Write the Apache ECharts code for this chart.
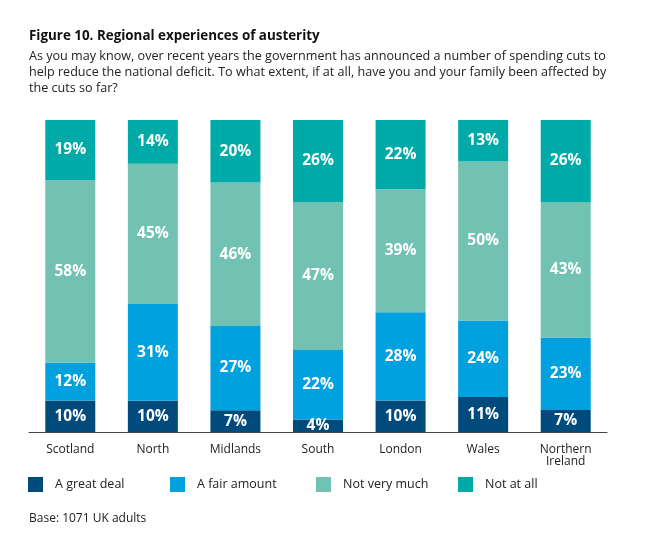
<!DOCTYPE html>
<html>
<head>
<meta charset="utf-8">
<script src="https://cdn.jsdelivr.net/npm/echarts@6/dist/echarts.min.js"></script>
<style>
  html, body { margin: 0; padding: 0; background: #fff; }
  #chart { width: 646px; height: 538px; }
</style>
</head>
<body>
<div id="chart"></div>
<script>
// regions along the x axis
var regions = ['Scotland', 'North', 'Midlands', 'South', 'London', 'Wales', 'Northern\nIreland'];

// percentages (bottom to top)
var greatDeal = [10, 10, 7, 4, 10, 11, 7];
var fairAmount = [12, 31, 27, 22, 28, 24, 23];
var notVeryMuch = [58, 45, 46, 47, 39, 50, 43];
var notAtAll = [19, 14, 20, 26, 22, 13, 26];

var seriesNames = ['A great deal', 'A fair amount', 'Not very much', 'Not at all'];
var colors = ['#004a7c', '#00a1de', '#71c2b3', '#00aaa8'];

var font = '"Open Sans", "Noto Sans", sans-serif';
var raw = [greatDeal, fairAmount, notVeryMuch, notAtAll];

// each bar is drawn to full height, as in the original (rounded figures don't always add to 100)
var totals = regions.map(function (r, i) {
  return raw.reduce(function (s, arr) { return s + arr[i]; }, 0);
});

var chart = echarts.init(document.getElementById('chart'));

var series = raw.map(function (arr, k) {
  return {
    name: seriesNames[k],
    type: 'bar',
    stack: 'all',
    barWidth: 50,
    itemStyle: { color: colors[k] },
    label: {
      show: true,
      position: 'inside',
      color: '#fff',
      fontFamily: font,
      fontWeight: 'bold',
      fontSize: 15.5,
      formatter: function (p) { return arr[p.dataIndex] + '%'; }
    },
    data: arr.map(function (v, i) { return v / totals[i] * 100; })
  };
});

var legends = seriesNames.map(function (n, k) {
  return {
    data: [n],
    left: [28, 170, 316, 458][k],
    top: 477,
    itemWidth: 15,
    itemHeight: 15,
    icon: 'rect',
    itemGap: 12,
    textStyle: { fontFamily: font, fontSize: 12.5, color: '#222', padding: [0, 0, 0, 7] },
    padding: 0,
    selectedMode: false
  };
});

var option = {
  backgroundColor: '#fff',
  animation: false,
  title: [{
    text: 'Figure 10. Regional experiences of austerity',
    left: 29,
    top: 30,
    padding: 0,
    textStyle: { fontFamily: font, fontSize: 13.4, fontWeight: 'bold', color: '#111' }
  }, {
    text: 'As you may know, over recent years the government has announced a number of spending cuts to\nhelp reduce the national deficit. To what extent, if at all, have you and your family been affected by\nthe cuts so far?',
    left: 29,
    top: 49,
    padding: 0,
    textStyle: { fontFamily: font, fontSize: 12.6, fontWeight: 'normal', color: '#222', lineHeight: 15.8 }
  }, {
    text: 'Base: 1071 UK adults',
    left: 29,
    top: 513,
    padding: 0,
    textStyle: { fontFamily: font, fontSize: 12, fontWeight: 'normal', color: '#222' }
  }],
  legend: legends,
  grid: { left: 29, top: 120, width: 578, height: 312 },
  xAxis: {
    type: 'category',
    data: regions,
    axisLine: { lineStyle: { color: '#444', width: 1 } },
    axisTick: { show: false },
    axisLabel: { fontFamily: font, fontSize: 12, color: '#222', margin: 12, lineHeight: 12 }
  },
  yAxis: {
    type: 'value',
    min: 0,
    max: 100,
    show: false
  },
  series: series
};

chart.setOption(option);
</script>
</body>
</html>
